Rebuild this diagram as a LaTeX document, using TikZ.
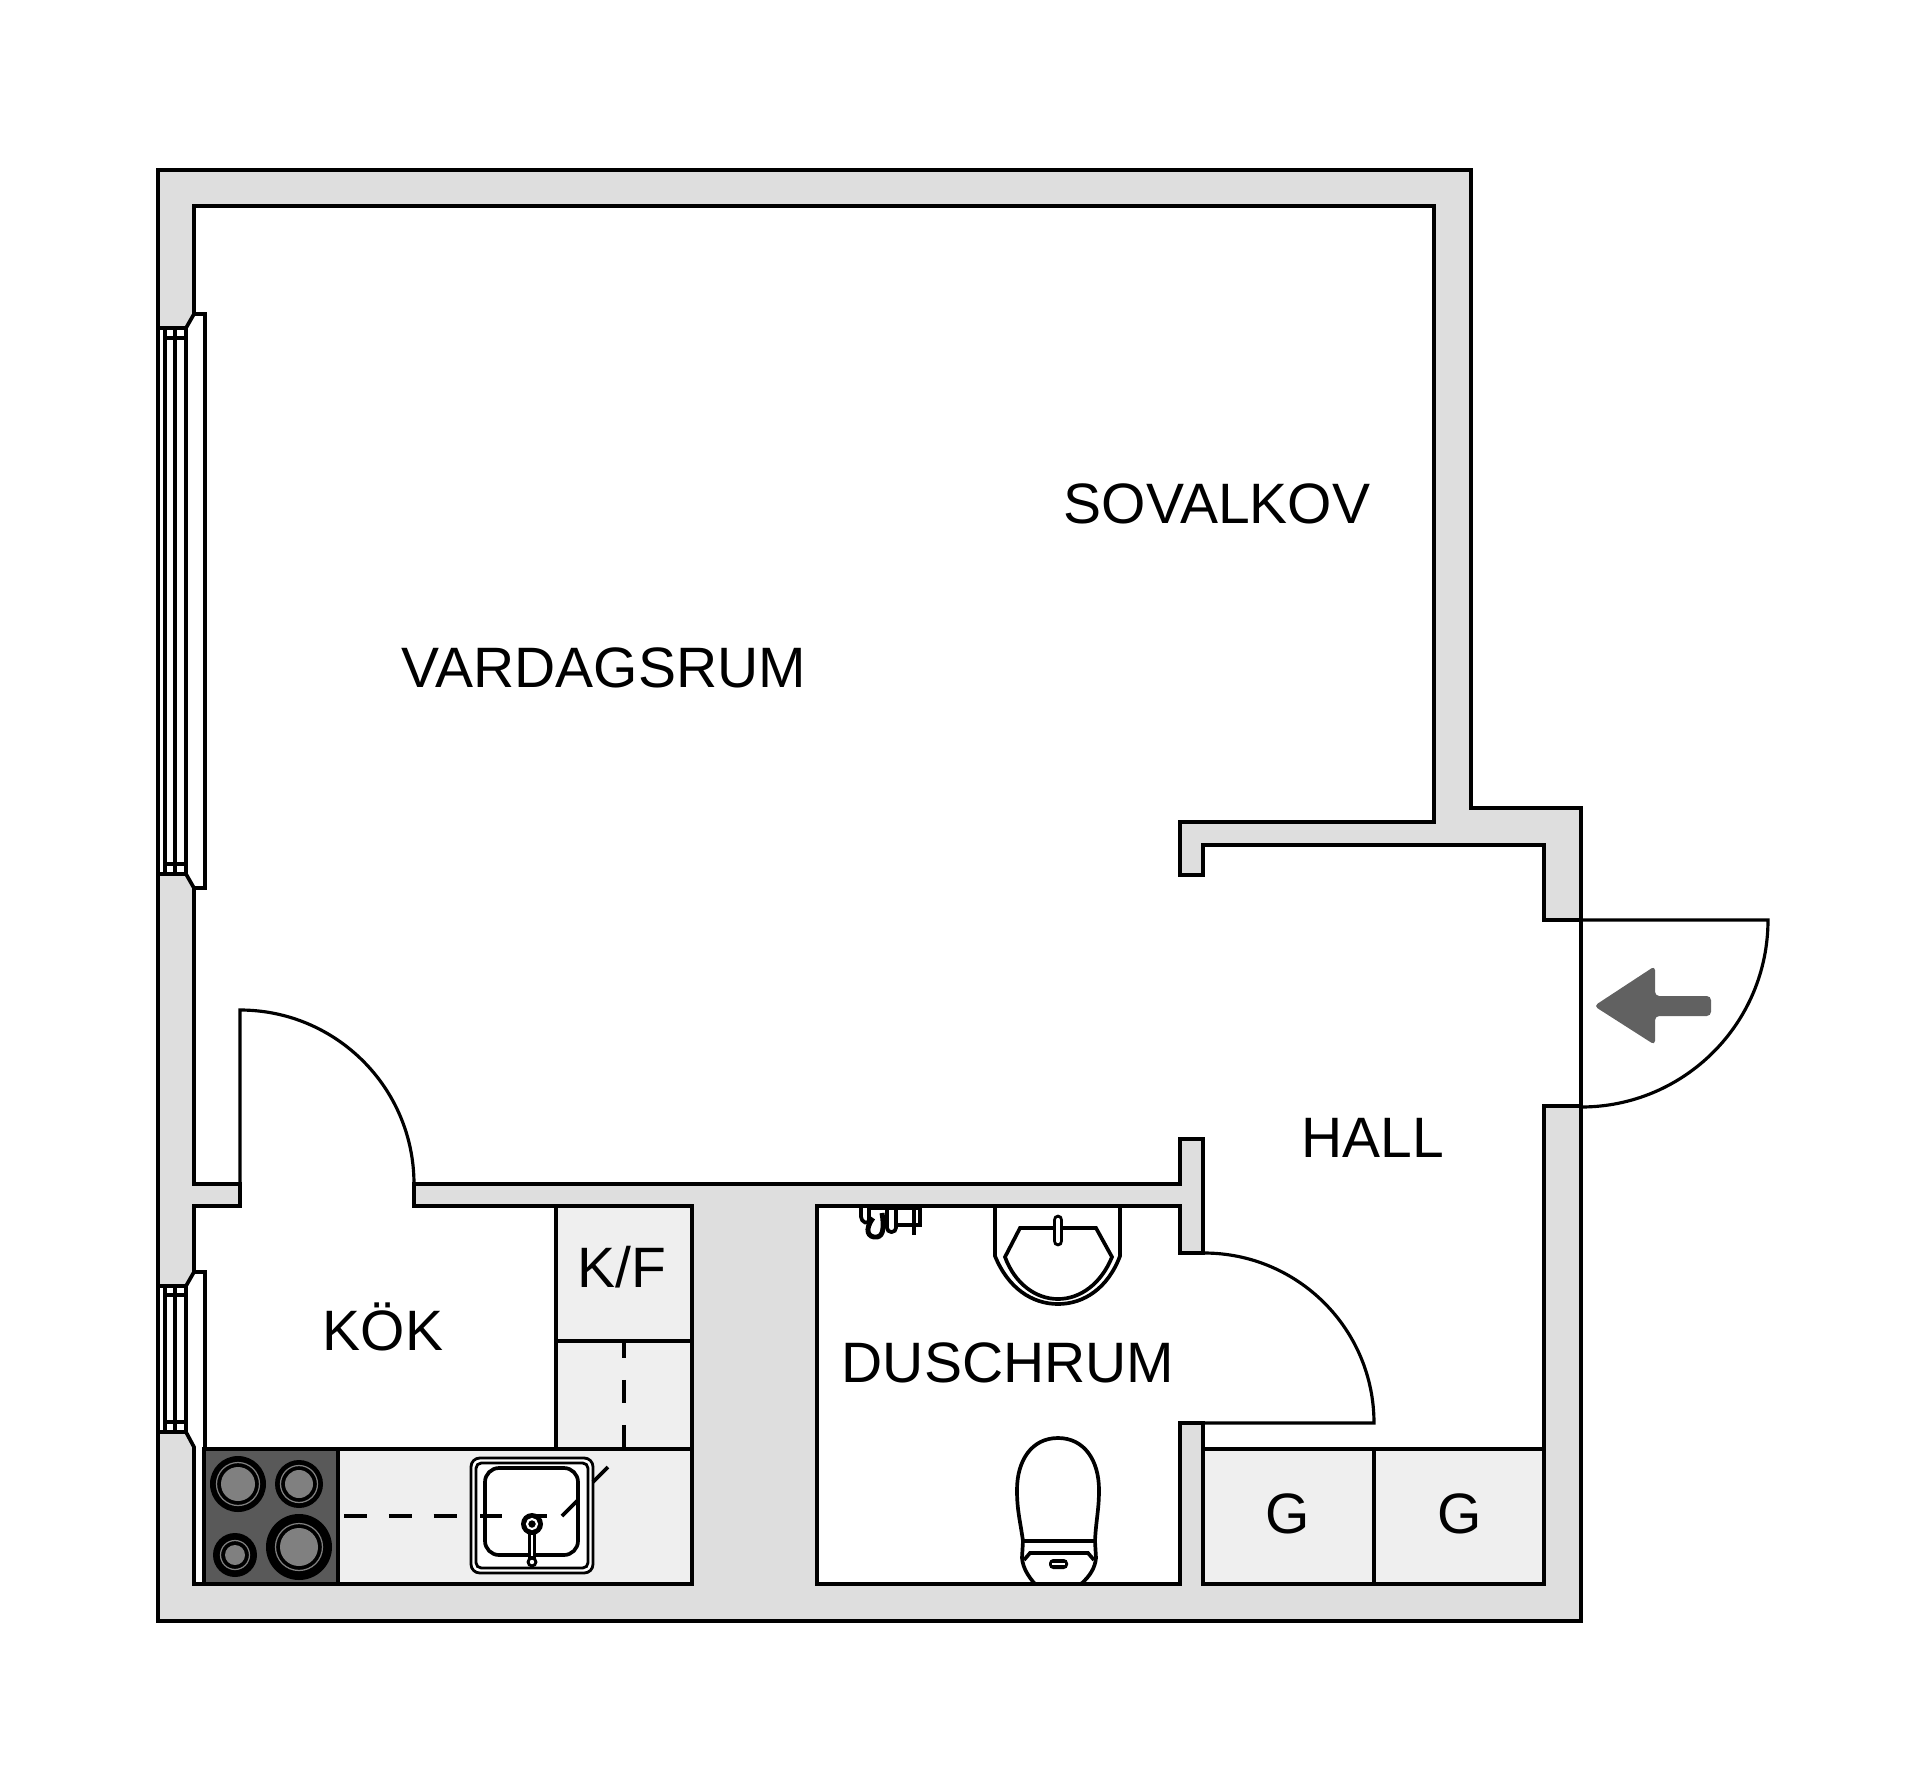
\documentclass[tikz,border=0pt]{standalone}
\usepackage{fontspec}
\setmainfont{Liberation Sans}
\definecolor{wallgrey}{HTML}{DEDEDE}
\definecolor{unitgrey}{HTML}{EFEFEF}
\definecolor{hobgrey}{HTML}{595959}
\definecolor{ringgrey}{HTML}{808080}
\definecolor{arrowgrey}{HTML}{616161}
\tikzstyle{plan} = [line width=1.05pt,line join=miter]
\tikzstyle{thinplan} = [line width=0.8pt]
\tikzstyle{doorline} = [line width=0.9pt]
\tikzstyle{roomlabel} = [font=\fontsize{16.2}{20}\selectfont,anchor=base,inner sep=0pt,outer sep=0pt]
\tikzstyle{unitbox} = [plan,fill=unitgrey]
\tikzstyle{dashline} = [plan,dash pattern=on 6.52pt off 6.24pt]

\begin{document}
\begin{tikzpicture}[x=0.01cm,y=-0.01cm]
	\useasboundingbox (0,0) rectangle (1920,1787);

	\draw[plan,fill=wallgrey] (158,170) -- (1471,170) -- (1471,808) -- (1581,808) -- (1581,1621) -- (158,1621) -- cycle;
	\draw[plan,fill=white] (194,206) -- (1434,206) -- (1434,822) -- (1180,822) -- (1180,875) -- (1203,875) -- (1203,845) -- (1544,845) -- (1544,920) -- (1581,920) -- (1581,1106) -- (1544,1106) -- (1544,1584) -- (1203,1584) -- (1203,1423) -- (1180,1423) -- (1180,1584) -- (817,1584) -- (817,1206) -- (1180,1206) -- (1180,1253) -- (1203,1253) -- (1203,1139) -- (1180,1139) -- (1180,1184) -- (414,1184) -- (414,1206) -- (692,1206) -- (692,1584) -- (194,1584) -- (194,1447) -- (186,1432) -- (158,1432) -- (158,1286) -- (186,1286) -- (194,1272) -- (194,1206) -- (240,1206) -- (240,1184) -- (194,1184) -- (194,888) -- (186,874) -- (158,874) -- (158,328) -- (186,328) -- (194,314) -- cycle;

	% windows
	\draw[plan] (194,314) -- (205,314) -- (205,888) -- (194,888);
	\draw[plan] (194,1272) -- (205,1272) -- (205,1449);
	\foreach \wx in {165,175,186}
		\draw[plan] (\wx,328) -- (\wx,874);
	\foreach \wx in {165,175,186}
		\draw[plan] (\wx,1286) -- (\wx,1432);
	\foreach \wy in {338,864} \draw[plan] (165,\wy) -- (186,\wy);
	\foreach \wy in {1295,1422} \draw[plan] (165,\wy) -- (186,\wy);

	% doors
	\draw[doorline] (240,1184) -- (240,1010) arc[start angle=-90,end angle=0,radius=174];
	\draw[doorline] (1204,1253) arc[start angle=-90,end angle=0,radius=170] -- (1203,1423);
	\draw[doorline] (1544,920) -- (1768,920) arc[start angle=0,end angle=90,radius=187];
	\fill[arrowgrey,rounded corners=1.2pt] (1594,1006) -- (1655,966) -- (1655,996) -- (1711,996) -- (1711,1016) -- (1655,1016) -- (1655,1045) -- cycle;

	% kitchen units
	\draw[unitbox] (338,1449) rectangle (692,1584);
	\draw[unitbox] (556,1206) rectangle (692,1341);
	\draw[unitbox] (556,1341) rectangle (692,1449);
	\draw[dashline,dash phase=1.7pt] (624,1341) -- (624,1449);
	\draw[plan,fill=hobgrey] (204,1449) rectangle (338,1584);
	\foreach \cx/\cy/\ro/\ri in {238/1484/28/17,299/1484/24/14,235/1555/22/10,299/1547/33/19}{
		\fill (\cx,\cy) circle[radius=\ro];
		\draw[ringgrey,line width=0.35pt] (\cx,\cy) circle[radius={\ri+4.5}];
		\fill[ringgrey] (\cx,\cy) circle[radius=\ri];
	}

	% sink
	\draw[thinplan,fill=white,rounded corners=2.5pt] (471,1458) rectangle (593,1573);
	\draw[thinplan,rounded corners=1.5pt] (476,1463) rectangle (588,1568);
	\draw[plan,rounded corners=4pt] (485,1468) rectangle (578,1555);
	\draw[dashline] (344,1516) -- (457,1516);
	\draw[plan] (480,1516) -- (502,1516) (530,1516) -- (547,1516);
	\draw[plan] (562,1516) -- (578,1500) (593,1482) -- (608,1467);
	\draw[line width=2pt] (532,1524) -- (532,1562);
	\draw[white,line width=0.3pt] (532,1530) -- (532,1556);
	\fill (532,1524) circle[radius=11];
	\draw[white,line width=0.6pt] (532,1524) circle[radius=5];
	\fill (532,1562) circle[radius=5.5];
	\fill[white] (532,1562) circle[radius=2.2];

	% shower fitting
	\draw[line width=1.3pt] (868,1208) -- (920,1208);
	\draw[plan,rounded corners=1.2pt] (861,1207) -- (861,1221) -- (869,1224) -- (869,1207);
	\draw[line width=1.4pt] (873,1218) .. controls (864,1230) and (868,1238) .. (877,1237) .. controls (884,1236) and (884,1225) .. (882,1213);
	\draw[plan,rounded corners=1.2pt] (887,1207) -- (887,1232) -- (896,1232) -- (896,1207);
	\draw[plan] (896,1225) -- (920,1225) -- (920,1208);
	\draw[plan] (914,1207) -- (914,1235);

	% basin
	\draw[plan] (995,1207) -- (995,1256) .. controls (1008,1288) and (1032,1304) .. (1058,1304) .. controls (1084,1304) and (1108,1288) .. (1120,1256) -- (1120,1207);
	\draw[plan] (1020,1228) -- (1096,1228) -- (1112,1257) .. controls (1101,1284) and (1080,1299) .. (1058,1299) .. controls (1036,1299) and (1015,1284) .. (1005,1257) -- cycle;
	\draw[line width=3.1pt,line cap=round] (1058,1220) -- (1058,1241);
	\draw[white,line width=1.2pt,line cap=round] (1058,1220) -- (1058,1241);

	% wc
	\draw[plan] (1023,1541) .. controls (1020,1520) and (1017,1510) .. (1017,1490) .. controls (1017,1460) and (1032,1438) .. (1058,1438) .. controls (1084,1438) and (1099,1460) .. (1099,1490) .. controls (1099,1510) and (1096,1520) .. (1095,1541) -- cycle;
	\draw[plan] (1023,1541) -- (1022,1558) .. controls (1023,1568) and (1028,1576) .. (1035,1584);
	\draw[plan] (1095,1541) -- (1096,1558) .. controls (1095,1568) and (1090,1576) .. (1081,1584);
	\draw[plan] (1024,1560) -- (1030,1553) -- (1088,1553) -- (1094,1560);
	\fill[rounded corners=1.2pt] (1049,1559) rectangle (1068,1569);
	\draw[white,line width=0.4pt] (1052,1564) -- (1065,1564);

	% wardrobes
	\draw[unitbox] (1203,1449) rectangle (1374,1584);
	\draw[unitbox] (1374,1449) rectangle (1544,1584);

	\node[roomlabel] (sovalkov) at (1217,523) {SOVALKOV};
	\node[roomlabel] (vardagsrum) at (604,687) {VARDAGSRUM};
	\node[roomlabel] (hall) at (1373,1157) {HALL};
	\node[roomlabel] (kok) at (383,1350) {KÖK};
	\node[roomlabel] (kf) at (622,1287) {K/F};
	\node[roomlabel] (duschrum) at (1008,1382) {DUSCHRUM};
	\node[roomlabel] (gleft) at (1288,1533) {G};
	\node[roomlabel] (gright) at (1460,1533) {G};
\end{tikzpicture}
\end{document}
